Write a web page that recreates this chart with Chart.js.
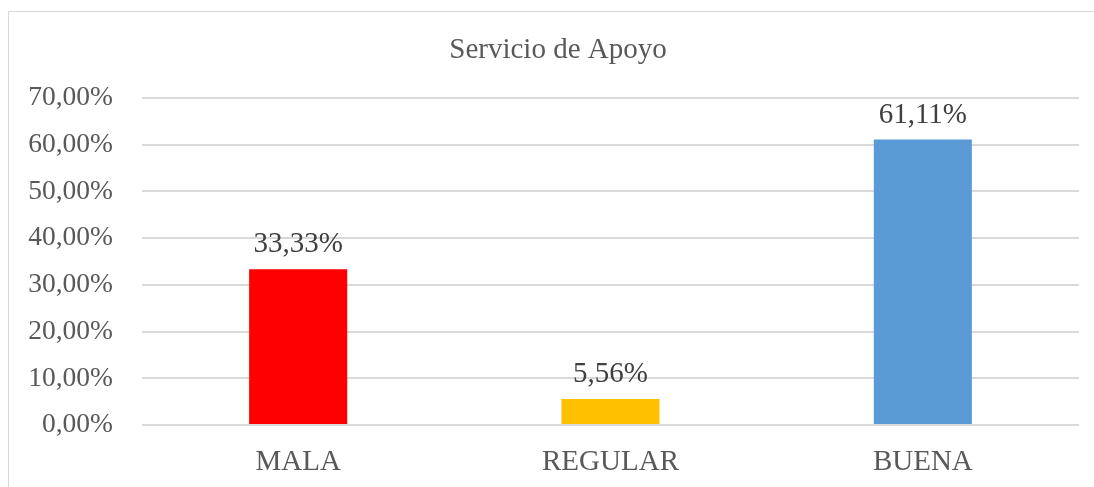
<!DOCTYPE html>
<html>
<head>
<meta charset="utf-8">
<script src="https://cdn.jsdelivr.net/npm/chart.js@4"></script>
<style>
  html, body { margin: 0; padding: 0; background: #fff; }
  #wrap { width: 1094px; height: 487px; }
</style>
</head>
<body>
<div id="wrap"><canvas id="chart" width="1094" height="487"></canvas></div>
<script>
// data
let categories = ["MALA", "REGULAR", "BUENA"];
let values = [33.33, 5.56, 61.11];
let barColors = ["#FF0000", "#FFC000", "#5B9BD5"];
let chartTitle = "Servicio de Apoyo";

function pct(v) {
    return v.toFixed(2).replace(".", ",") + "%";
}

// frame, title and value labels over bars
var extras = {
    id: "extras",
    beforeDraw: function (chart) {
        let ctx = chart.ctx;
        ctx.save();
        ctx.strokeStyle = "#D9D9D9";
        ctx.lineWidth = 1;
        ctx.strokeRect(8.5, 11.5, 1200, 600);
        ctx.font = "29px 'Liberation Serif'";
        ctx.fillStyle = "#595959";
        ctx.textAlign = "center";
        ctx.textBaseline = "middle";
        ctx.fillText(chartTitle, 558, 50);
        ctx.restore();
    },
    afterDatasetsDraw: function (chart) {
        let ctx = chart.ctx;
        let meta = chart.getDatasetMeta(0);
        ctx.save();
        ctx.font = "29px 'Liberation Serif'";
        ctx.fillStyle = "#404040";
        ctx.textAlign = "center";
        ctx.textBaseline = "alphabetic";
        meta.data.forEach(function (bar, i) {
            ctx.fillText(pct(values[i]), bar.x, bar.y - 17);
        });
        ctx.restore();
    }
};

var ctx = document.getElementById("chart").getContext("2d");

var chartview = new Chart(ctx, {
    type: "bar",
    data: {
        labels: categories,
        datasets: [{
            data: values,
            backgroundColor: barColors,
            categoryPercentage: 1,
            barPercentage: 0.314
        }]
    },
    options: {
        responsive: false,
        animation: false,
        layout: { padding: { left: 10, right: 15, top: 98, bottom: 0 } },
        plugins: {
            legend: { display: false },
            tooltip: { enabled: false },
            title: { display: false }
        },
        scales: {
            x: {
                grid: { display: false },
                border: { display: false },
                ticks: {
                    color: "#595959",
                    font: { family: "Liberation Serif", size: 29 },
                    padding: 12
                },
                afterFit: function (s) { s.height = 62; }
            },
            y: {
                min: 0,
                max: 70,
                grid: { color: "#D9D9D9", lineWidth: 2, drawTicks: false },
                border: { display: false },
                ticks: {
                    stepSize: 10,
                    color: "#595959",
                    font: { family: "Liberation Serif", size: 27.5 },
                    padding: 29,
                    callback: function (v) { return pct(v); }
                },
                afterFit: function (s) { s.width = 132; }
            }
        }
    },
    plugins: [extras]
});
</script>
</body>
</html>
